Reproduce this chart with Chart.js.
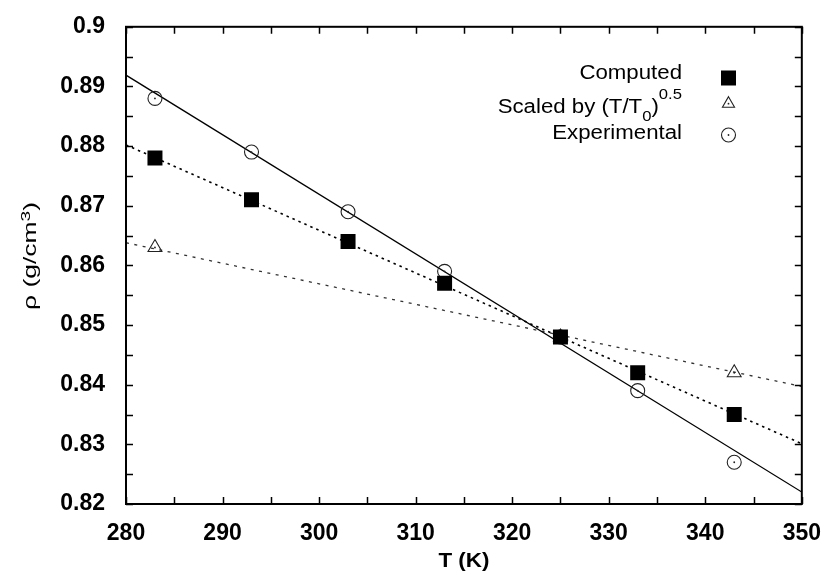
<!DOCTYPE html>
<html><head><meta charset="utf-8">
<script src="https://cdn.jsdelivr.net/npm/chart.js@4.4.1/dist/chart.umd.min.js"></script>
<style>html,body{margin:0;padding:0;background:#fff}#wrap{width:829px;height:577px;position:relative}</style>
</head><body><div id="wrap"><canvas id="c"></canvas></div>
<script>
// ---- data ----
const temperatures = [283, 293, 303, 313, 325, 333, 343];
const rhoComputed = [0.878, 0.871, 0.864, 0.857, 0.848, 0.842, 0.835];
const rhoExperimental = [0.888, 0.879, 0.869, 0.859, 0.848, 0.839, 0.827];
const tempsScaled = [283, 325, 343];
const rhoScaled = [0.863, 0.848, 0.842];
// fitted straight lines (end values read at T = 280 and 350)
const fitTemps = [280, 350];
const fitExperimental = [0.8919, 0.8220];
const fitComputed = [0.8802, 0.8301];
const fitScaled = [0.8638, 0.8397];
// axes
const xRange = [280, 350];
const yRange = [0.82, 0.9];
const xTickStep = 10;
const yTickStep = 0.01;
// texts
const legendLabels = ['Computed', 'Scaled by (T/T_{0})^{0.5}', 'Experimental'];
const xTitle = 'T (K)';
const yTitle = 'ρ (g/cm^{3})';

const FONT = '"Liberation Sans", Arial, Helvetica, sans-serif';
function pts(xs, ys) { return xs.map((x, i) => ({x: x, y: ys[i]})); }

function parseRich(s) {
  const out = []; let i = 0, buf = '';
  while (i < s.length) {
    const c = s[i];
    if ((c === '^' || c === '_') && s[i + 1] === '{') {
      if (buf) { out.push({t: buf, m: 0}); buf = ''; }
      const j = s.indexOf('}', i);
      out.push({t: s.slice(i + 2, j), m: c === '^' ? 1 : -1});
      i = j + 1;
    } else { buf += c; i++; }
  }
  if (buf) out.push({t: buf, m: 0});
  return out;
}
function drawRich(ctx, s, x, y, o) {
  const segs = parseRich(s);
  const ss = o.size * o.scriptScale;
  let w = 0;
  segs.forEach(g => { ctx.font = `${o.weight} ${g.m ? ss : o.size}px ${FONT}`; g.w = ctx.measureText(g.t).width; w += g.w; });
  let stretch = o.stretch || 1;
  if (o.targetWidth) stretch = o.targetWidth / w;
  ctx.save();
  ctx.translate(x, y);
  if (o.rotate) ctx.rotate(o.rotate);
  ctx.scale(stretch, 1);
  let cx = o.align === 'right' ? -w : (o.align === 'center' ? -w / 2 : 0);
  ctx.fillStyle = '#000'; ctx.textBaseline = 'alphabetic'; ctx.textAlign = 'left';
  segs.forEach(g => {
    ctx.font = `${o.weight} ${g.m ? ss : o.size}px ${FONT}`;
    const dy = g.m === 1 ? -o.supRaise : (g.m === -1 ? o.subDrop : 0);
    ctx.fillText(g.t, cx, dy);
    cx += g.w;
  });
  ctx.restore();
}

const framePlugin = {
  id: 'frame',
  afterDraw(chart) {
    const ctx = chart.ctx, a = chart.chartArea;
    const xs = chart.scales.x, ys = chart.scales.y;
    ctx.save();
    ctx.strokeStyle = '#000';
    ctx.lineWidth = 2;
    ctx.strokeRect(a.left, a.top, a.right - a.left, a.bottom - a.top);
    ctx.lineWidth = 1.5;
    const L = 7;
    ctx.beginPath();
    for (let v = xRange[0]; v <= xRange[1] + 1e-9; v += xTickStep / 2) {
      const p = Math.round(xs.getPixelForValue(v)) + 0.5;
      ctx.moveTo(p, a.bottom); ctx.lineTo(p, a.bottom - L);
      ctx.moveTo(p, a.top); ctx.lineTo(p, a.top + L);
    }
    for (let k = 0; k <= Math.round((yRange[1] - yRange[0]) / (yTickStep / 2)); k++) {
      const v = yRange[0] + k * yTickStep / 2;
      const p = Math.round(ys.getPixelForValue(v)) + 0.5;
      ctx.moveTo(a.left, p); ctx.lineTo(a.left + L, p);
      ctx.moveTo(a.right, p); ctx.lineTo(a.right - L, p);
    }
    ctx.stroke();

    // axis titles
    drawRich(ctx, xTitle, (a.left + a.right) / 2, 567, {size: 19.5, weight: 'bold', align: 'center', targetWidth: 51, scriptScale: 0.75, supRaise: 8, subDrop: 5});
    drawRich(ctx, yTitle, 35.5, 256, {size: 19, weight: 'normal', align: 'center', targetWidth: 108, rotate: -Math.PI / 2, scriptScale: 0.72, supRaise: 6, subDrop: 5});

    // legend
    const rows = [{ty: 79, my: 78}, {ty: 113, my: 103.7}, {ty: 139, my: 135}];
    legendLabels.forEach((lab, i) => {
      drawRich(ctx, lab, 682, rows[i].ty, {size: 19.5, weight: 'normal', align: 'right', stretch: 1.14, scriptScale: 0.75, supRaise: 14, subDrop: 8});
    });
    const mx = 728.5;
    ctx.fillStyle = '#000';
    ctx.fillRect(mx - 7.5, rows[0].my - 7.5, 15, 15);
    ctx.strokeStyle = '#222'; ctx.lineWidth = 1.1;
    const r = 7;
    ctx.beginPath();
    ctx.moveTo(mx, rows[1].my - r);
    ctx.lineTo(mx + r * Math.sin(2 * Math.PI / 3), rows[1].my - r * Math.cos(2 * Math.PI / 3));
    ctx.lineTo(mx - r * Math.sin(2 * Math.PI / 3), rows[1].my - r * Math.cos(2 * Math.PI / 3));
    ctx.closePath(); ctx.stroke();
    ctx.beginPath(); ctx.arc(mx, rows[2].my, 7, 0, 2 * Math.PI); ctx.stroke();
    ctx.fillStyle = '#222';
    ctx.beginPath(); ctx.arc(mx, rows[1].my, 0.9, 0, 2 * Math.PI); ctx.fill();
    ctx.beginPath(); ctx.arc(mx, rows[2].my, 0.9, 0, 2 * Math.PI); ctx.fill();
    ctx.restore();
  }
};

new Chart(document.getElementById('c'), {
  type: 'scatter',
  data: {
    datasets: [
      {label: 'Computed', data: pts(temperatures, rhoComputed), pointStyle: 'rect', pointRadius: 10.6, backgroundColor: '#000', borderColor: '#000', borderWidth: 0, order: 0},
      {label: 'Scaled', data: pts(tempsScaled, rhoScaled), pointStyle: 'triangle', pointRadius: 8, backgroundColor: 'rgba(0,0,0,0)', borderColor: '#222', borderWidth: 1.1, order: 1},
      {label: 'Scaled dot', data: pts(tempsScaled, rhoScaled), pointStyle: 'circle', pointRadius: 0.9, backgroundColor: '#222', borderWidth: 0, order: 1},
      {label: 'Experimental', data: pts(temperatures, rhoExperimental), pointStyle: 'circle', pointRadius: 7, backgroundColor: 'rgba(0,0,0,0)', borderColor: '#222', borderWidth: 1.1, order: 2},
      {label: 'Experimental dot', data: pts(temperatures, rhoExperimental), pointStyle: 'circle', pointRadius: 0.9, backgroundColor: '#222', borderWidth: 0, order: 2},
      {label: 'fit exp', data: pts(fitTemps, fitExperimental), showLine: true, pointRadius: 0, borderColor: '#000', borderWidth: 1.3, order: 5},
      {label: 'fit comp', data: pts(fitTemps, fitComputed), showLine: true, pointRadius: 0, borderColor: '#000', borderWidth: 1.6, borderDash: [2.5, 4], order: 5},
      {label: 'fit scaled', data: pts(fitTemps, fitScaled), showLine: true, pointRadius: 0, borderColor: '#333', borderWidth: 1.3, borderDash: [3, 5.5], order: 5}
    ]
  },
  options: {
    responsive: true,
    maintainAspectRatio: false,
    animation: false,
    events: [],
    layout: {padding: {left: 0, right: 26, top: 24, bottom: 0}},
    plugins: {legend: {display: false}, tooltip: {enabled: false}},
    scales: {
      x: {
        type: 'linear', min: xRange[0], max: xRange[1],
        grid: {display: false},
        border: {display: false},
        afterFit(s) { s.height = 73; },
        ticks: {stepSize: xTickStep, color: '#000', padding: 8, font: {family: FONT, size: 23, weight: 'bold'}}
      },
      y: {
        type: 'linear', min: yRange[0], max: yRange[1],
        grid: {display: false},
        border: {display: false},
        afterFit(s) { s.width = 126; },
        ticks: {stepSize: yTickStep, color: '#000', padding: 13, font: {family: FONT, size: 23, weight: 'bold'},
          callback: v => String(Number(v.toFixed(3)))}
      }
    }
  },
  plugins: [framePlugin]
});
</script>
</body></html>
